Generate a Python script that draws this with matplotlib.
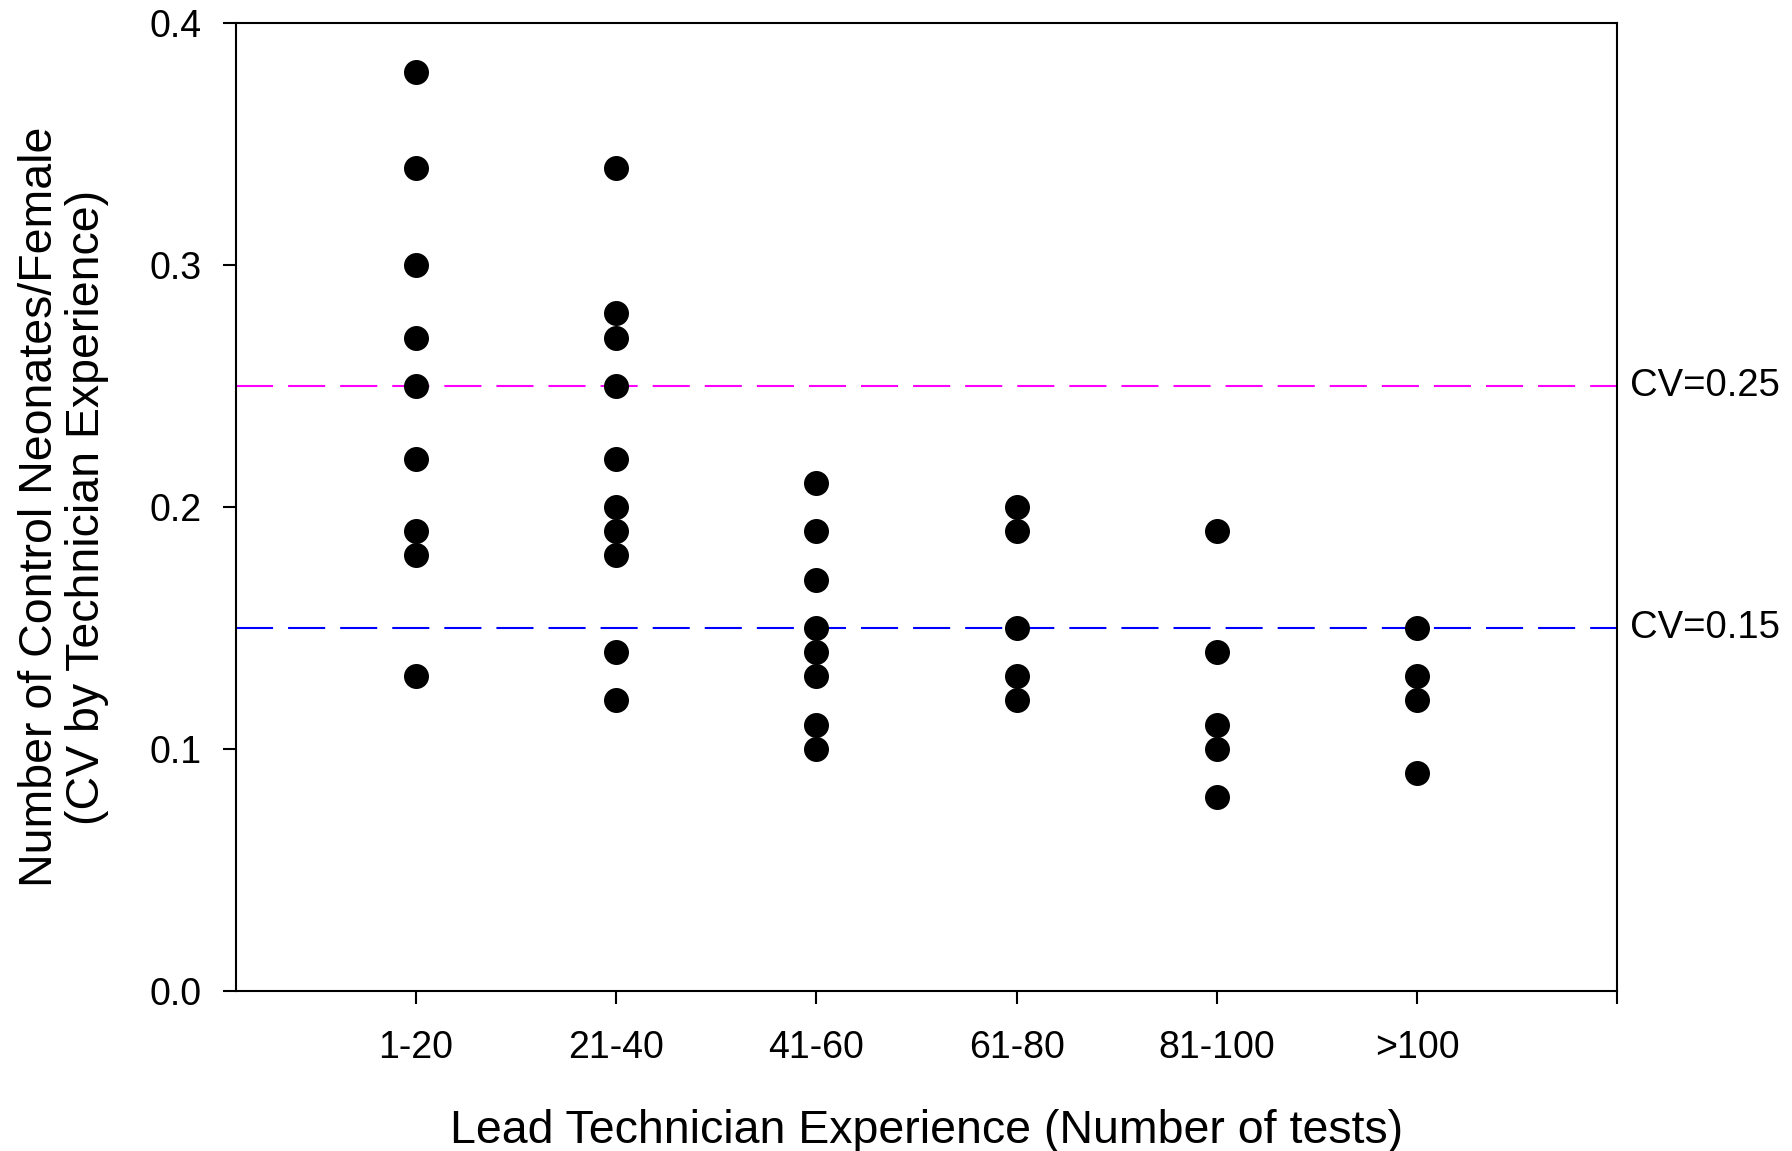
import matplotlib
matplotlib.use('Agg')
import matplotlib.pyplot as plt

plt.rcParams['font.family'] = ['Liberation Sans', 'DejaVu Sans']

# CV of control neonates per female, grouped by lead technician experience
groups = ['1-20', '21-40', '41-60', '61-80', '81-100', '>100']
cv_1_20 = [0.38, 0.34, 0.30, 0.27, 0.25, 0.22, 0.19, 0.18, 0.13]
cv_21_40 = [0.34, 0.28, 0.27, 0.25, 0.22, 0.20, 0.19, 0.18, 0.14, 0.12]
cv_41_60 = [0.21, 0.19, 0.17, 0.15, 0.14, 0.13, 0.11, 0.10]
cv_61_80 = [0.20, 0.19, 0.15, 0.13, 0.12]
cv_81_100 = [0.19, 0.14, 0.11, 0.10, 0.08]
cv_over_100 = [0.15, 0.13, 0.12, 0.09]
cv_values = [cv_1_20, cv_21_40, cv_41_60, cv_61_80, cv_81_100, cv_over_100]

# reference lines
cv_limits = [0.25, 0.15]
cv_colors = ['#ff00ff', '#0000ff']

fig = plt.figure(figsize=(17.92, 11.51), dpi=100)
ax = fig.add_axes([0.1315, 0.1393, 0.771, 0.8405])

for lim, col in zip(cv_limits, cv_colors):
    ax.axhline(lim, color=col, lw=1.5, dashes=(17.8, 7.2), zorder=1)
    ax.annotate('CV=%.2f' % lim, xy=(1.0, lim), xycoords=('axes fraction', 'data'),
                xytext=(9, 0), textcoords='offset points',
                ha='left', va='center', fontsize=27.5)

for i, vals in enumerate(cv_values):
    ax.plot([i + 1] * len(vals), vals, 'o', color='black', markersize=18,
            markeredgewidth=0, zorder=3)

ax.set_xlim(0.1, 7)
ax.set_ylim(0, 0.4)
ax.set_xticks(range(1, 8))
ax.set_xticklabels(groups + [''])
ax.set_yticks([0.0, 0.1, 0.2, 0.3, 0.4])
ax.set_yticklabels(['0.0', '0.1', '0.2', '0.3', '0.4'])

for sp in ax.spines.values():
    sp.set_linewidth(1.5)
ax.tick_params(direction='out', length=9.5, width=1.5, labelsize=27)
ax.tick_params(axis='x', pad=19)
ax.tick_params(axis='y', pad=15)

ax.set_xlabel('Lead Technician Experience (Number of tests)', fontsize=33.5, labelpad=31)
ax.set_ylabel('Number of Control Neonates/Female\n(CV by Technician Experience)',
              fontsize=33.5, labelpad=29, linespacing=1.1)

fig.savefig('out.png', dpi=100)
